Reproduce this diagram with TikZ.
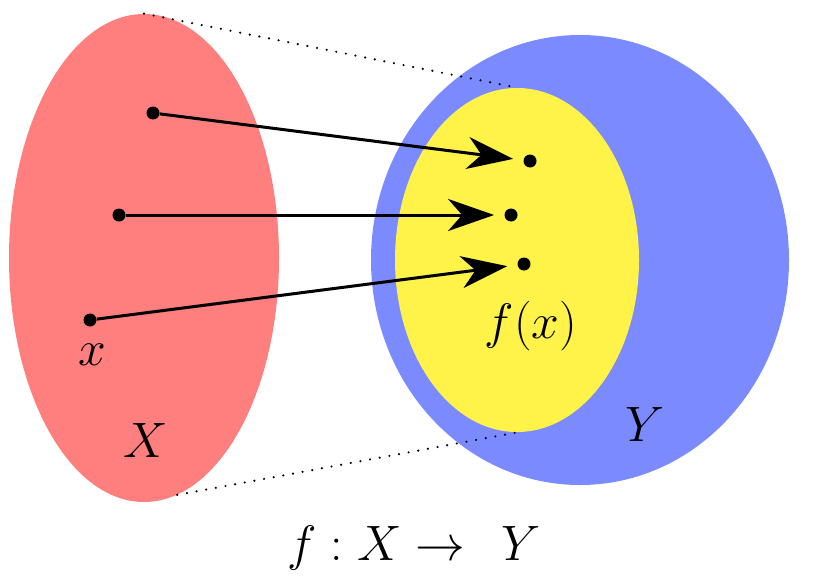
\documentclass[tikz,border=0pt]{standalone}
\usepackage{amsmath,amssymb}
\usepackage{xcolor}
\usepackage{tikz}
\usetikzlibrary{positioning,arrows.meta,shapes.geometric}
\definecolor{setred}{RGB}{255,127,127}
\definecolor{setblue}{RGB}{123,139,255}
\definecolor{setyellow}{RGB}{255,242,72}

\begin{document}
\begin{tikzpicture}[
  x=0.5pt, y=-0.5pt,
  blob/.style={ellipse, inner sep=0pt, draw=none},
  pt/.style={circle, fill=black, inner sep=0pt, minimum size=6.5pt},
  ar/.style={-{Stealth[length=23pt, width=16pt, inset=7pt]}, line width=1.5pt, shorten >=5pt},
  guide/.style={line width=1.2pt, line cap=round, dash pattern=on 0pt off 4.9pt},
  lab/.style={inner sep=0pt}
]
\useasboundingbox (0,0) rectangle (823,583);
\node[blob, fill=setred, minimum width=135pt, minimum height=244pt] (domX) at (144,258) {};
\node[blob, fill=setblue, minimum width=209pt, minimum height=225pt] (codY) at (580,260) {};
\node[blob, fill=setyellow, minimum width=122pt, minimum height=172pt] (img) at (517,260) {};
\draw[guide] (domX.north) -- (img.north);
\draw[guide] (domX.-82) -- (img.south);
\node[pt] (x1) at (153,113) {};
\node[pt] (x2) at (119,215) {};
\node[pt] (x3) at (90,320) {};
\node[pt] (y1) at (530,161) {};
\node[pt] (y2) at (511,215) {};
\node[pt] (y3) at (524,264) {};
\foreach \a/\b in {x1/y1, x2/y2, x3/y3} \draw[ar] (\a) -- (\b);
\node[lab, font=\fontsize{29}{34}\selectfont] (xlab) at (92,355) {$x$};
\node[lab, font=\fontsize{33}{38}\selectfont] (Xlab) at (146,440) {$X$};
\node[lab, font=\fontsize{25}{30}\selectfont] (fxlab) at (531,326) {$f(x)$};
\node[lab, font=\fontsize{33}{38}\selectfont] (Ylab) at (645,424) {$Y$};
\node[lab, font=\fontsize{34}{40}\selectfont] (map) at (414,548) {$f:X\rightarrow\;\,Y$};
\end{tikzpicture}
\end{document}
